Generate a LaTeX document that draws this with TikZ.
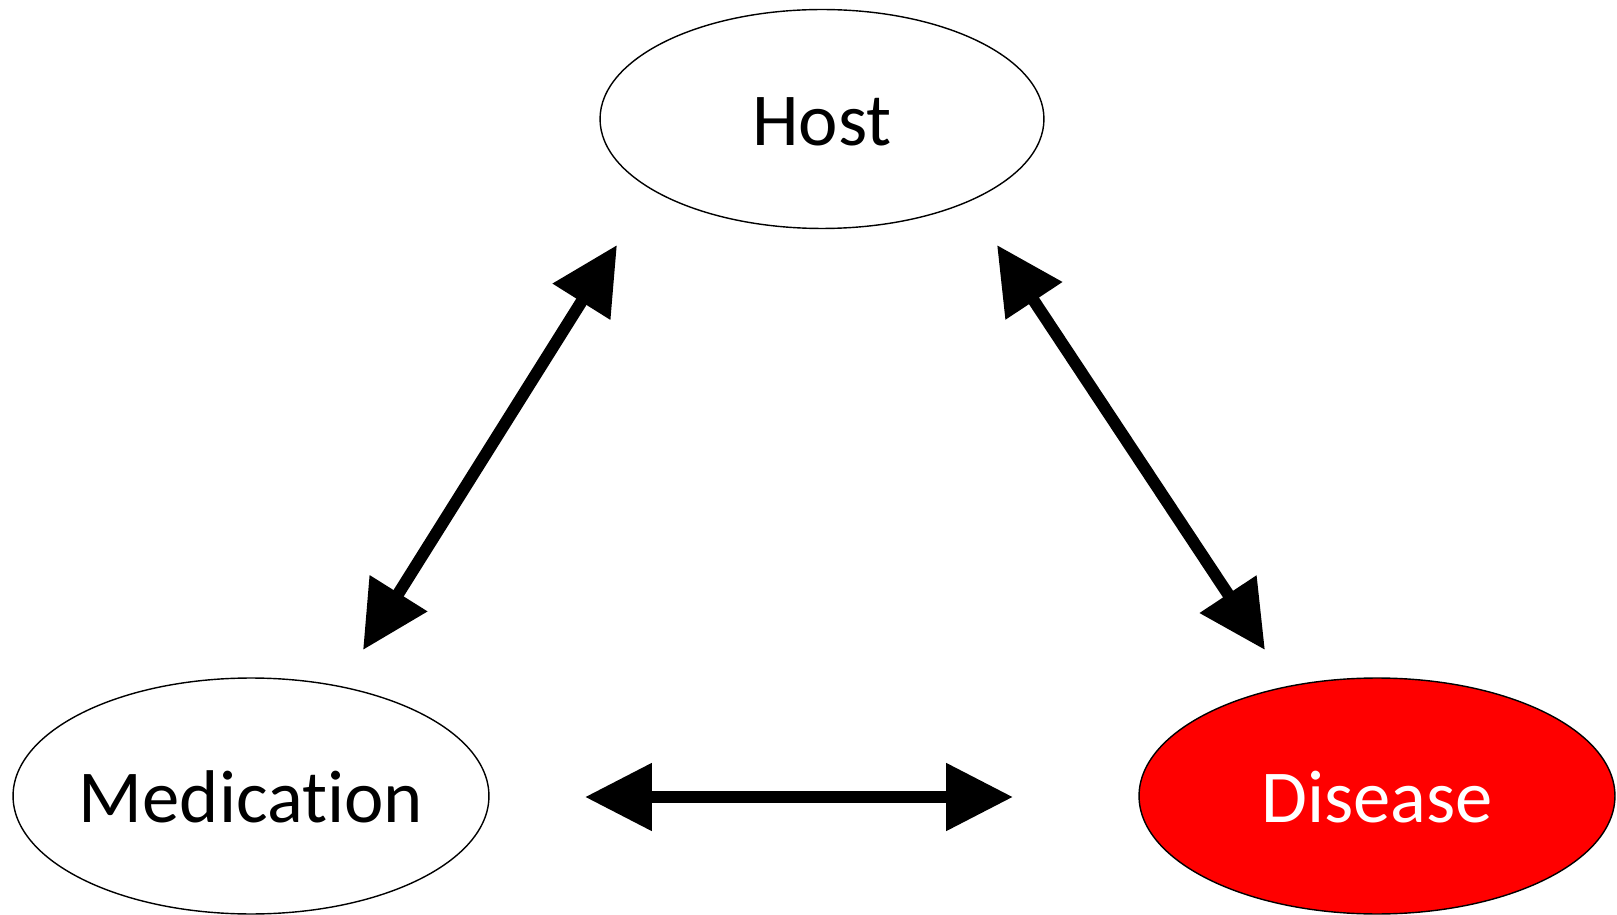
\documentclass[tikz,border=0pt]{standalone}
\usepackage{fontspec}
\setmainfont{Carlito}[Ligatures=NoCommon]
\usetikzlibrary{shapes.geometric,arrows.meta}

\begin{document}
\begin{tikzpicture}[x=0.02cm, y=-0.02cm,
		blob/.style={ellipse, draw, line width=0.8pt, inner xsep=-0.5cm, inner ysep=0pt, text height=30pt, text depth=0pt, font=\fontsize{42.5}{50}\selectfont},
		link/.style={line width=0.24cm, {Triangle[length=1.34cm,width=1.3cm]}-{Triangle[length=1.34cm,width=1.3cm]}}]
				\useasboundingbox (0,0) rectangle (1617,915);
				\node[blob, minimum width=8.88cm, minimum height=4.38cm] (host) at (822,119) {Host};
				\node[blob, minimum width=9.52cm, minimum height=4.72cm] (med) at (251,796) {Medication};
				\node[blob, minimum width=9.52cm, minimum height=4.72cm, fill=red, text=white] (dis) at (1377,796) {Disease};
				\coordinate (hm) at (617,245);
				\coordinate (mh) at (363,650);
				\coordinate (hd) at (997,245);
				\coordinate (dh) at (1265,650);
				\coordinate (md) at (585,797);
				\coordinate (dm) at (1013,797);
				\draw[link] (hm) -- (mh);
				\draw[link] (hd) -- (dh);
				\draw[link] (md) -- (dm);
			\end{tikzpicture}
\end{document}
